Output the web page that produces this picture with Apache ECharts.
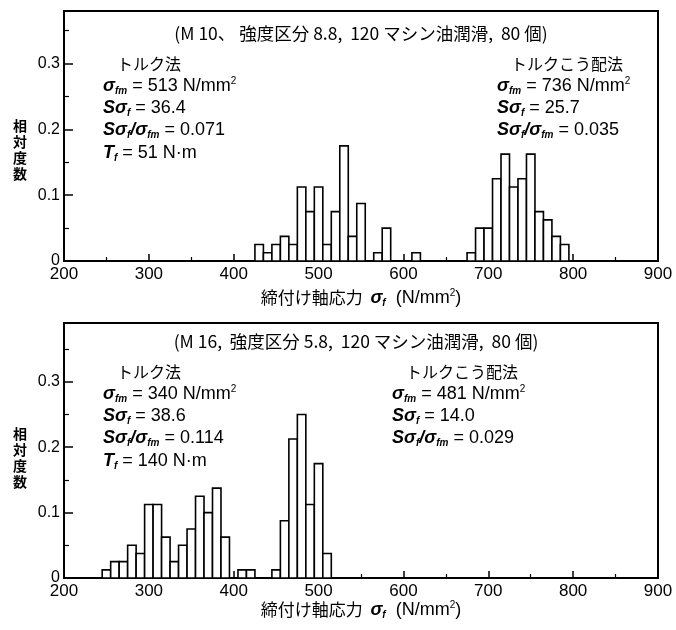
<!DOCTYPE html>
<html>
<head>
<meta charset="utf-8">
<script src="https://cdn.jsdelivr.net/npm/echarts@6/dist/echarts.min.js"></script>
<style>
  html, body { margin: 0; padding: 0; background: #fff; }
  #chart-container { width: 676px; height: 630px; }
</style>
</head>
<body>
<div id="chart-container"></div>
<script>
// bin centres (N/mm2) and relative frequencies
var m10TorqueX = [430, 440, 450, 460, 470, 480, 490, 500, 510, 520, 530, 540, 550, 570, 580, 615];
var m10TorqueY = [0.025, 0.0125, 0.025, 0.0375, 0.025, 0.1125, 0.075, 0.1125, 0.025, 0.075, 0.175, 0.0375, 0.0875, 0.0125, 0.05, 0.0125];
var m10GradX = [680, 690, 700, 710, 720, 730, 740, 750, 760, 770, 780, 790];
var m10GradY = [0.0125, 0.05, 0.05, 0.125, 0.1625, 0.1125, 0.125, 0.1625, 0.075, 0.0625, 0.0375, 0.025];

var m16TorqueX = [250, 260, 270, 280, 290, 300, 310, 320, 330, 340, 350, 360, 370, 380, 390, 410, 420];
var m16TorqueY = [0.0125, 0.025, 0.025, 0.05, 0.0375, 0.1125, 0.1125, 0.0625, 0.025, 0.05, 0.075, 0.125, 0.1, 0.1375, 0.0625, 0.0125, 0.0125];
var m16GradX = [450, 460, 470, 480, 490, 500, 510];
var m16GradY = [0.0125, 0.0875, 0.2125, 0.25, 0.1125, 0.175, 0.0375];

var binWidth = 10;

var m10Title = '(M 10、 強度区分 8.8,  120 マシン油潤滑,  80 個)';
var m16Title = '(M 16,  強度区分 5.8,  120 マシン油潤滑,  80 個)';
var m10Torque = ['513', '36.4', '0.071', '51'];
var m10Grad = ['736', '25.7', '0.035'];
var m16Torque = ['340', '38.6', '0.114', '140'];
var m16Grad = ['481', '14.0', '0.029'];

var latin = "'Liberation Sans', 'Noto Sans CJK JP', sans-serif";
var cjk = "'Noto Sans CJK JP', 'Liberation Sans', sans-serif";

var rich = {
  n: {fontFamily: latin, fontSize: 18, lineHeight: 20, color: '#000'},
  j: {fontFamily: cjk, fontSize: 16, lineHeight: 20, color: '#000'},
  t: {fontFamily: cjk, fontSize: 17.5, lineHeight: 22, color: '#000'},
  a: {fontFamily: cjk, fontSize: 17, lineHeight: 20, color: '#000'},
  s: {fontFamily: latin, fontSize: 18, lineHeight: 20, fontStyle: 'italic', fontWeight: 'bold', color: '#000'},
  sub: {fontFamily: latin, fontSize: 10, lineHeight: 12, fontStyle: 'italic', fontWeight: 'bold', verticalAlign: 'bottom', color: '#000'},
  sup: {fontFamily: latin, fontSize: 10, lineHeight: 12, verticalAlign: 'top', color: '#000'}
};

function txt(x, y, s, align) {
  return {
    type: 'text', x: x, y: y, silent: true,
    style: {text: s, rich: rich, align: align || 'left', verticalAlign: 'middle'}
  };
}

function statBlock(x, y, head, v) {
  var out = [
    txt(x + 14, y, '{j|' + head + '}'),
    txt(x, y + 22, '{s|σ}{sub|fm}{n| = ' + v[0] + ' N/mm}{sup|2}'),
    txt(x, y + 44, '{s|Sσ}{sub|f}{n| = ' + v[1] + '}'),
    txt(x, y + 66, '{s|Sσ}{sub|f}{s|/σ}{sub|fm}{n| = ' + v[2] + '}')
  ];
  if (v[3]) out.push(txt(x, y + 89, '{s|T}{sub|f}{n| = ' + v[3] + ' N·m}'));
  return out;
}

function yName(y) {
  return {
    type: 'text', x: 20, y: y, silent: true,
    style: {text: '相\n対\n度\n数', font: 'bold 14px ' + cjk, lineHeight: 16, align: 'center', verticalAlign: 'middle', fill: '#000'}
  };
}

var xTitle = '{a|締付け軸応力  }{s|σ}{sub|f}{n|  (N/mm}{sup|2}{n|)}';

function renderBar(params, api) {
  var x = api.value(0), v = api.value(1);
  var p0 = api.coord([x - binWidth / 2, v]);
  var p1 = api.coord([x + binWidth / 2, 0]);
  return {
    type: 'rect',
    shape: {x: p0[0], y: p0[1], width: p1[0] - p0[0], height: p1[1] - p0[1]},
    style: {fill: '#fff', stroke: '#000', lineWidth: 1.6}
  };
}

function pairs(xs, ys) {
  return xs.map(function (x, i) { return [x, ys[i]]; });
}

function xAx(i) {
  return {
    gridIndex: i, type: 'value', min: 200, max: 900, interval: 100,
    axisLine: {lineStyle: {color: '#000', width: 2}},
    axisTick: {inside: true, length: 7, lineStyle: {color: '#000', width: 1.5}},
    minorTick: {show: true, splitNumber: 2, length: 4, lineStyle: {color: '#000', width: 1.2}},
    axisLabel: {color: '#000', fontFamily: latin, fontSize: 17, margin: 5},
    splitLine: {show: false}
  };
}

function yAx(i, max) {
  return {
    gridIndex: i, type: 'value', min: 0, max: max, interval: 0.1,
    axisLine: {lineStyle: {color: '#000', width: 2}},
    axisTick: {inside: true, length: 9, lineStyle: {color: '#000', width: 1.5}},
    minorTick: {show: true, splitNumber: 2, length: 5, lineStyle: {color: '#000', width: 1.2}},
    axisLabel: {color: '#000', fontFamily: latin, fontSize: 16, margin: 4, showMaxLabel: false},
    splitLine: {show: false}
  };
}

var dom = document.getElementById('chart-container');
var myChart = echarts.init(dom, null, {renderer: 'canvas'});

var option = {
  animation: false,
  backgroundColor: '#fff',
  grid: [
    {left: 64, top: 11, width: 594, height: 250, show: true, borderColor: '#000', borderWidth: 2},
    {left: 64, top: 323, width: 594, height: 255, show: true, borderColor: '#000', borderWidth: 2}
  ],
  xAxis: [xAx(0), xAx(1)],
  yAxis: [yAx(0, 0.38), yAx(1, 0.39)],
  series: [
    {type: 'custom', xAxisIndex: 0, yAxisIndex: 0, renderItem: renderBar, data: pairs(m10TorqueX, m10TorqueY)},
    {type: 'custom', xAxisIndex: 0, yAxisIndex: 0, renderItem: renderBar, data: pairs(m10GradX, m10GradY)},
    {type: 'custom', xAxisIndex: 1, yAxisIndex: 1, renderItem: renderBar, data: pairs(m16TorqueX, m16TorqueY)},
    {type: 'custom', xAxisIndex: 1, yAxisIndex: 1, renderItem: renderBar, data: pairs(m16GradX, m16GradY)}
  ],
  graphic: [
    txt(361, 33, '{t|' + m10Title + '}', 'center'),
    txt(356, 341, '{t|' + m16Title + '}', 'center'),
    yName(150),
    yName(458),
    txt(361, 298, xTitle, 'center'),
    txt(361, 610, xTitle, 'center')
  ]
    .concat(statBlock(103, 64, 'トルク法', m10Torque))
    .concat(statBlock(497, 64, 'トルクこう配法', m10Grad))
    .concat(statBlock(103, 372, 'トルク法', m16Torque))
    .concat(statBlock(392, 372, 'トルクこう配法', m16Grad))
};

myChart.setOption(option);
window.addEventListener('resize', myChart.resize);
</script>
</body>
</html>
